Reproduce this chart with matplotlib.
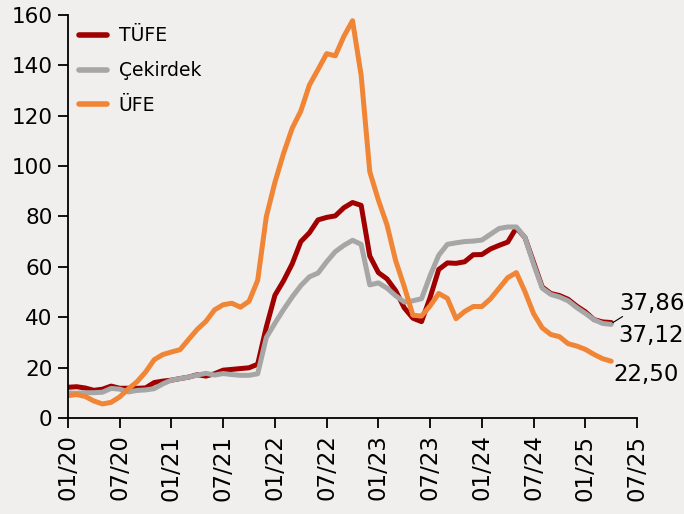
import numpy as np
import matplotlib
matplotlib.use('Agg')
import matplotlib.pyplot as plt

# colours
BG = "#F1EFEE"
C_TUFE = "#A00000"
C_CORE = "#A6A6A6"
C_UFE = "#F08536"

# monthly annual inflation, 01/2020 .. 04/2025
tufe = [12.15, 12.37, 11.86, 10.94, 11.39, 12.62, 11.76, 11.77, 11.75, 11.89, 14.03, 14.60,
        14.97, 15.61, 16.19, 17.14, 16.59, 17.53, 18.95, 19.25, 19.58, 19.89, 21.31, 36.08,
        48.69, 54.44, 61.14, 69.97, 73.50, 78.62, 79.60, 80.21, 83.45, 85.51, 84.39, 64.27,
        57.68, 55.18, 50.51, 43.68, 39.59, 38.21, 47.83, 58.94, 61.53, 61.36, 61.98, 64.77,
        64.86, 67.07, 68.50, 69.80, 75.45, 71.60, 61.78, 51.97, 49.38, 48.58, 47.09, 44.38,
        42.12, 39.05, 38.10, 37.86]
core = [9.9, 9.8, 10.0, 10.0, 10.2, 11.7, 11.4, 10.3, 10.9, 11.1, 11.6, 13.5,
        15.0, 15.6, 16.2, 17.0, 17.7, 17.0, 17.6, 17.2, 16.9, 16.9, 17.5, 31.9,
        37.6, 43.0, 48.0, 52.5, 56.0, 57.5, 62.0, 66.0, 68.5, 70.5, 68.9, 52.8,
        53.6, 51.5, 48.5, 46.0, 46.5, 47.3, 56.5, 64.6, 68.9, 69.5, 70.0, 70.2,
        70.6, 72.9, 75.2, 75.8, 75.8, 71.6, 61.0, 51.5, 49.0, 48.0, 46.5, 43.8,
        41.5, 39.0, 37.5, 37.12]
ufe = [8.84, 9.26, 8.50, 6.71, 5.53, 6.17, 8.33, 11.53, 14.33, 18.20, 23.11, 25.15,
       26.16, 27.09, 31.20, 35.17, 38.33, 42.89, 44.92, 45.52, 43.96, 46.31, 54.62, 79.89,
       93.53, 105.01, 114.97, 121.82, 132.16, 138.31, 144.61, 143.75, 151.50, 157.69, 136.02, 97.72,
       86.46, 76.61, 62.43, 52.11, 40.76, 40.42, 44.50, 49.41, 47.44, 39.39, 42.25, 44.22,
       44.20, 47.29, 51.47, 55.66, 57.68, 50.09, 41.37, 35.75, 33.09, 32.24, 29.47, 28.52,
       27.20, 25.21, 23.50, 22.50]

tick_labels = ["01/20", "07/20", "01/21", "07/21", "01/22", "07/22",
               "01/23", "07/23", "01/24", "07/24", "01/25", "07/25"]
end_labels = ["37,86", "37,12", "22,50"]

months = np.arange(len(tufe))

plt.rcParams['font.family'] = 'DejaVu Sans'

fig = plt.figure(figsize=(6.84, 5.14), dpi=100, facecolor=BG)
ax = fig.add_axes([0.0994, 0.187, 0.832, 0.784])
ax.set_facecolor(BG)

lw = 3.6
ax.plot(months, tufe, color=C_TUFE, lw=lw, solid_capstyle='round', solid_joinstyle='round', label="TÜFE")
ax.plot(months, core, color=C_CORE, lw=lw, solid_capstyle='round', solid_joinstyle='round', label="Çekirdek")
ax.plot(months, ufe, color=C_UFE, lw=lw, solid_capstyle='round', solid_joinstyle='round', label="ÜFE")

ax.set_xlim(0, 66)
ax.set_ylim(0, 160)
ax.set_xticks(np.arange(0, 67, 6))
ax.set_xticklabels(tick_labels, rotation=90, fontsize=16.5)
ax.set_yticks(np.arange(0, 161, 20))
ax.tick_params(axis='y', labelsize=15.5, length=7, width=1.3, direction='out', pad=4)
ax.tick_params(axis='x', length=7, width=1.3, direction='out', pad=5)
for s in ['top', 'right']:
    ax.spines[s].set_visible(False)
for s in ['left', 'bottom']:
    ax.spines[s].set_linewidth(1.3)

leg = ax.legend(loc='upper left', bbox_to_anchor=(0.0, 1.0), frameon=False,
                fontsize=13.5, handlelength=1.5, handletextpad=0.6,
                labelspacing=0.85, borderaxespad=0.2)
for h in leg.get_lines():
    h.set_linewidth(4)
    h.set_solid_capstyle('round')

# end-of-series labels
last = months[-1]
ax.plot([last + 0.2, last + 1.3], [tufe[-1], 40.2], color='black', lw=0.8)
ax.text(last + 0.95, 45.6, end_labels[0], fontsize=16.5, va='center', ha='left')
ax.text(last + 0.85, 32.9, end_labels[1], fontsize=16.5, va='center', ha='left')
ax.text(last + 0.2, 17.1, end_labels[2], fontsize=16.5, va='center', ha='left')

fig.savefig("out.png", dpi=100, facecolor=BG)
